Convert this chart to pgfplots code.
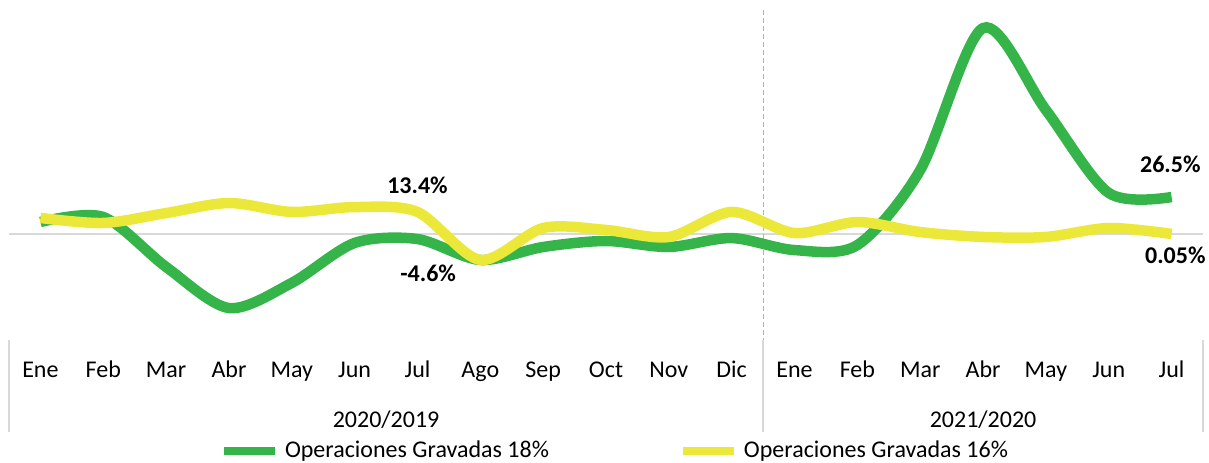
\documentclass[border=0pt]{standalone}
\usepackage{fontspec}
\setmainfont{Carlito}
\usepackage{pgfplots}
\pgfplotsset{compat=1.18}
\definecolor{gr}{HTML}{35B44A}
\definecolor{ye}{HTML}{EBE83A}
\definecolor{axgray}{HTML}{D9D9D9}
\begin{document}
\begin{tikzpicture}[font=\fontsize{12}{14}\selectfont]
\useasboundingbox (-4.5pt,-61pt) rectangle (600pt,170pt);
\begin{axis}[
  at={(0,0)}, anchor=south west,
  scale only axis, width=597pt, height=165pt,
  xmin=-0.5, xmax=18.5, ymin=-75.9, ymax=160.4,
  axis line style={draw=none},
  xtick={0,...,18},
  xticklabels={Ene,Feb,Mar,Abr,May,Jun,Jul,Ago,Sep,Oct,Nov,Dic,Ene,Feb,Mar,Abr,May,Jun,Jul},
  ytick=\empty, major tick length=0pt,
  xticklabel style={anchor=base, yshift=-18.5pt, inner sep=0pt},
  clip=false,
  legend columns=2,
  legend style={at={(axis description cs:0,0)}, anchor=west, xshift=105.5pt, yshift=-55.5pt,
    draw=none, fill=none, inner sep=0pt, outer sep=0pt, column sep=0pt,
    nodes={inner sep=0pt},
    /tikz/every odd column/.append style={column sep=3pt},
    /tikz/every even column/.append style={column sep=65pt}},
  legend image code/.code={\draw[#1, line width=4pt, line cap=butt] (0pt,0pt) -- (25.5pt,0pt);},
]
\draw[axgray, line width=1pt] (axis cs:-0.5,0) -- (axis cs:18.5,0);
\draw[black!30, line width=0.6pt, dash pattern=on 2.5pt off 1.5pt] (axis cs:11.5,160.4) -- (axis cs:11.5,-75.9);
\draw[axgray, line width=1pt] (axis cs:11.5,-75.9) -- ([yshift=-46pt]axis cs:11.5,-75.9);
\draw[axgray, line width=1pt] (axis cs:-0.5,-75.9) -- ([yshift=-46pt]axis cs:-0.5,-75.9);
\draw[axgray, line width=1pt] (axis cs:18.5,-75.9) -- ([yshift=-46pt]axis cs:18.5,-75.9);

\addplot[gr, line width=5.25pt, smooth] coordinates {
(0,8.6) (1,12.2) (2,-23.6) (3,-53) (4,-35) (5,-6.4) (6,-3.6) (7,-18.6) (8,-9.3) (9,-5.0)
(10,-9.3) (11,-2.9) (12,-11.5) (13,-7.9) (14,45.8) (15,147.5) (16,88.8) (17,29.4) (18,26.5)};
\addlegendentry{Operaciones Gravadas 18\%}
\addplot[ye, line width=5.25pt, smooth] coordinates {
(0,11.5) (1,7.9) (2,15.0) (3,22.2) (4,15.8) (5,19.3) (6,15.8) (7,-18.6) (8,4.3) (9,2.9)
(10,-2.1) (11,15.8) (12,0.7) (13,8.6) (14,1.4) (15,-2.1) (16,-2.1) (17,4.3) (18,0.05)};
\addlegendentry{Operaciones Gravadas 16\%}

\node[font=\fontsize{12}{14}\selectfont\bfseries] at (axis cs:6,35.1) {13.4\%};
\node[font=\fontsize{12}{14}\selectfont\bfseries] at (axis cs:6.17,-28.5) {-4.6\%};
\node[font=\fontsize{12}{14}\selectfont\bfseries] at (axis cs:17.98,49.7) {26.5\%};
\node[font=\fontsize{12}{14}\selectfont\bfseries] at (axis cs:18.06,-15.4) {0.05\%};
\node[anchor=base, inner sep=0pt] at (axis cs:5.5,-75.9) [yshift=-43.5pt] {2020/2019};
\node[anchor=base, inner sep=0pt] at (axis cs:15,-75.9) [yshift=-43.5pt] {2021/2020};
\end{axis}
\end{tikzpicture}
\end{document}
